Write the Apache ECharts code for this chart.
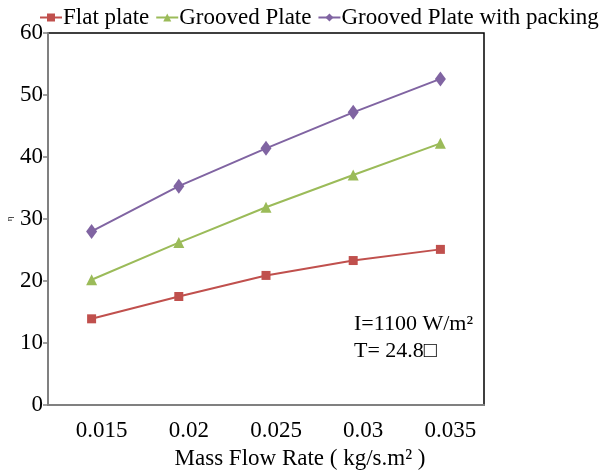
<!DOCTYPE html>
<html><head><meta charset="utf-8">
<script src="https://cdn.jsdelivr.net/npm/echarts@6/dist/echarts.min.js"></script>
<style>html,body{margin:0;padding:0;background:#fff}#c{width:613px;height:473px}</style>
</head><body><div id="c"></div>
<script>
const categories = ['0.015','0.02','0.025','0.03','0.035'];
const flatPlate = [13.9, 17.5, 20.9, 23.3, 25.1];
const groovedPlate = [20.2, 26.2, 31.9, 37.1, 42.2];
const groovedPacking = [28.0, 35.3, 41.4, 47.2, 52.6];
const seriesNames = ['Flat plate', 'Grooved Plate', 'Grooved Plate with packing'];
const yTicks = {min: 0, max: 60, interval: 10};

const font = 'Liberation Serif';
const chart = echarts.init(document.getElementById('c'));
function mk(name, data, color, symbol, size) {
  return {name, type: 'line', data, symbol, symbolSize: size,
    lineStyle: {color, width: 2}, itemStyle: {color}, showSymbol: true};
}
chart.setOption({
  animation: false,
  textStyle: {fontFamily: font},
  grid: {left: 48, right: 129, top: 33, bottom: 68, show: true, containLabel: false, outerBoundsMode: 'none',
    borderColor: '#000', borderWidth: 1.5, backgroundColor: 'transparent'},
  legend: {left: 34, top: 1, itemGap: 6, itemWidth: 22, itemHeight: 10,
    textStyle: {fontFamily: font, fontSize: 23, color: '#000', padding: [0,0,0,-4]},
    data: seriesNames},
  xAxis: {type: 'category', data: categories, boundaryGap: true,
    name: 'Mass Flow Rate ( kg/s.m² )', nameLocation: 'middle', nameGap: 42,
    nameTextStyle: {fontFamily: font, fontSize: 23, color: '#000', padding: [0,0,0,68]},
    axisLine: {lineStyle: {color: '#808080', width: 2}},
    axisTick: {alignWithLabel: false, length: 6, lineStyle: {color: '#808080', width: 1.5}},
    axisLabel: {fontFamily: font, fontSize: 23, color: '#000', margin: 14, padding: [0,0,0,20]},
    splitLine: {show: false}},
  yAxis: {type: 'value', min: yTicks.min, max: yTicks.max, interval: yTicks.interval,
    name: 'η', nameLocation: 'middle', nameGap: 34, nameRotate: 90, nameMoveOverlap: false,
    nameTextStyle: {fontFamily: font, fontSize: 9, color: '#000'},
    axisLine: {show: true, lineStyle: {color: '#808080', width: 2}},
    axisTick: {show: true, length: 5, lineStyle: {color: '#808080', width: 1.5}},
    axisLabel: {fontFamily: font, fontSize: 23, color: '#000', margin: 5},
    splitLine: {show: false}},
  graphic: [
    {type: 'text', left: 354, top: 313, style: {text: 'I=1100 W/m²', font: '22px "Liberation Serif"', fill: '#000'}},
    {type: 'text', left: 354, top: 340, style: {text: 'T= 24.8□', font: '22px "Liberation Serif"', fill: '#000'}}
  ],
  series: [
    mk(seriesNames[0], flatPlate, '#c0504d', 'rect', 9),
    mk(seriesNames[1], groovedPlate, '#9bbb59', 'triangle', 11),
    mk(seriesNames[2], groovedPacking, '#8064a2', 'diamond', [11, 15])
  ]
});
</script></body></html>
